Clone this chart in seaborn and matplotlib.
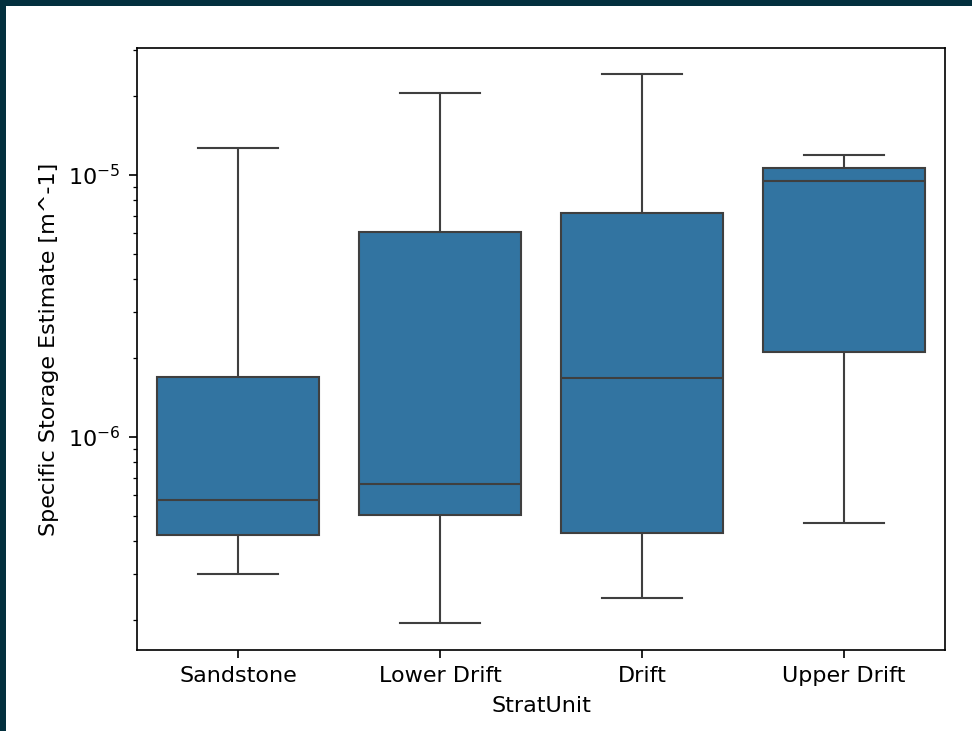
import numpy as np
import pandas as pd
import matplotlib
matplotlib.use("Agg")
import matplotlib.pyplot as plt
from matplotlib.patches import Rectangle
import seaborn as sns

# five-number summaries (min, Q1, median, Q3, max)
units = ["Sandstone", "Lower Drift", "Drift", "Upper Drift"]
sandstone = [3.0e-7, 4.23e-7, 5.75e-7, 1.70e-6, 1.27e-5]
lower_drift = [1.95e-7, 5.04e-7, 6.62e-7, 6.05e-6, 2.06e-5]
drift = [2.43e-7, 4.31e-7, 1.68e-6, 7.16e-6, 2.43e-5]
upper_drift = [4.70e-7, 2.11e-6, 9.48e-6, 1.06e-5, 1.19e-5]

df = pd.DataFrame({
    "StratUnit": np.repeat(units, 5),
    "Ss": sandstone + lower_drift + drift + upper_drift,
})

plt.rcParams["font.size"] = 10.6
plt.rcParams["xtick.major.size"] = 3.8
plt.rcParams["ytick.major.size"] = 3.8
plt.rcParams["xtick.major.pad"] = 4.0
plt.rcParams["ytick.major.pad"] = 4.0
plt.rcParams["axes.labelpad"] = 4.5

dpi = 151
fig = plt.figure(figsize=(972 / dpi, 731 / dpi), dpi=dpi, facecolor="#03303e")
# white page inside the dark frame
fig.patches.append(Rectangle((6 / 972, 0), 1 - 6 / 972, 1 - 6 / 731,
                             transform=fig.transFigure, facecolor="white",
                             edgecolor="none", zorder=-1))
ax = fig.add_subplot(111)
fig.subplots_adjust(left=137 / 972, right=945 / 972, bottom=81 / 731, top=683 / 731)

sns.boxplot(data=df, x="StratUnit", y="Ss", order=units, log_scale=True,
            whis=np.inf, ax=ax)

ax.set_ylim(1.54e-7, 3.05e-5)
ax.set_ylabel("Specific Storage Estimate [m^-1]")
ax.set_xlabel("StratUnit")

fig.savefig("out.png", dpi=dpi, facecolor=fig.get_facecolor())
